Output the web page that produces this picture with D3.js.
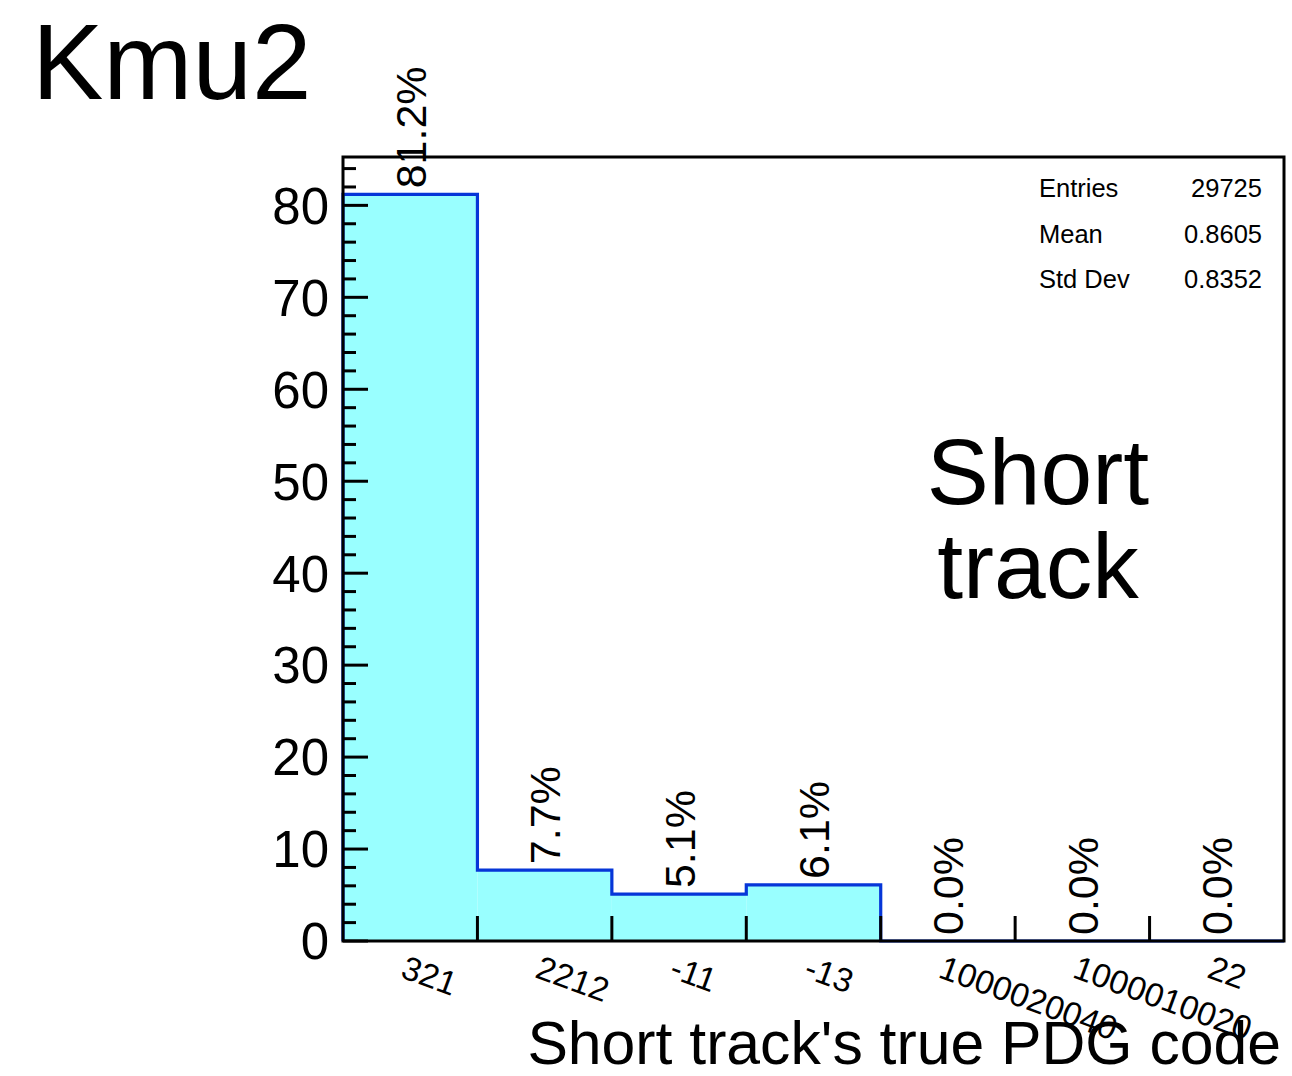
<!DOCTYPE html>
<html>
<head>
<meta charset="utf-8">
<script src="https://cdn.jsdelivr.net/npm/d3@7/dist/d3.min.js"></script>
<style>
  html, body { margin: 0; padding: 0; background: #ffffff; }
  svg { display: block; font-family: "Liberation Sans", Arial, Helvetica, sans-serif; }
</style>
</head>
<body>
<svg id="chart" width="1292" height="1076"></svg>
<script>
// PDG codes of the short track (one bin each) and the share of entries in each bin
const categories = ["321", "2212", "-11", "-13", "1000020040", "1000010020", "22"];
const percentages = [81.2, 7.7, 5.1, 6.1, 0.0, 0.0, 0.0];

// y-axis ticks
const yMajorTicks = [0, 10, 20, 30, 40, 50, 60, 70, 80];
const yMinorTicks = d3.range(0, 86, 2);

// statistics box
const statNames = ["Entries", "Mean", "Std Dev"];
const statValues = ["29725", "0.8605", "0.8352"];

const titleText = "Kmu2";
const noteLines = ["Short", "track"];
const xTitle = "Short track's true PDG code";

// ---- layout ----
const frame = { left: 343, right: 1284, top: 157, bottom: 941 };
const yMax = d3.max(percentages) * 1.05;

const svg = d3.select("#chart");

const x = d3.scaleLinear().domain([0, categories.length]).range([frame.left, frame.right]);
const y = d3.scaleLinear().domain([0, yMax]).range([frame.bottom, frame.top]);

const fillColor = "#99ffff";
const lineColor = "#0636d8";

// ---- histogram fill ----
svg.append("g")
  .selectAll("rect")
  .data(percentages)
  .join("rect")
  .attr("x", (d, i) => x(i))
  .attr("width", (d, i) => x(i + 1) - x(i))
  .attr("y", d => y(d))
  .attr("height", d => y(0) - y(d))
  .attr("fill", fillColor);

// ---- histogram outline (step line) ----
const stepPoints = [[0, 0]];
percentages.forEach((v, i) => { stepPoints.push([i, v]); stepPoints.push([i + 1, v]); });
stepPoints.push([categories.length, 0]);

svg.append("path")
  .datum(stepPoints)
  .attr("d", d3.line().x(p => x(p[0])).y(p => y(p[1])))
  .attr("fill", "none")
  .attr("stroke", lineColor)
  .attr("stroke-width", 3.2)
  .attr("stroke-linejoin", "miter");

// ---- frame ----
svg.append("rect")
  .attr("x", frame.left)
  .attr("y", frame.top)
  .attr("width", frame.right - frame.left)
  .attr("height", frame.bottom - frame.top)
  .attr("fill", "none")
  .attr("stroke", "#000")
  .attr("stroke-width", 3);

// ---- y axis ticks (drawn inward) ----
const yAxisG = svg.append("g");
yAxisG.selectAll("line.minor")
  .data(yMinorTicks.filter(t => t % 10 !== 0))
  .join("line")
  .attr("x1", frame.left).attr("x2", frame.left + 13)
  .attr("y1", d => y(d)).attr("y2", d => y(d))
  .attr("stroke", "#000").attr("stroke-width", 3);
yAxisG.selectAll("line.major")
  .data(yMajorTicks)
  .join("line")
  .attr("x1", frame.left).attr("x2", frame.left + 25)
  .attr("y1", d => y(d)).attr("y2", d => y(d))
  .attr("stroke", "#000").attr("stroke-width", 3);
yAxisG.selectAll("text")
  .data(yMajorTicks)
  .join("text")
  .attr("x", 329)
  .attr("y", d => y(d))
  .attr("dy", "0.36em")
  .attr("text-anchor", "end")
  .attr("font-size", 51)
  .attr("fill", "#000")
  .text(d => d);

// ---- x axis ticks at bin edges (drawn inward) ----
svg.append("g")
  .selectAll("line")
  .data(d3.range(1, categories.length))
  .join("line")
  .attr("x1", d => x(d)).attr("x2", d => x(d))
  .attr("y1", frame.bottom).attr("y2", frame.bottom - 25)
  .attr("stroke", "#000").attr("stroke-width", 3);

// ---- x bin labels (rotated) ----
svg.append("g")
  .selectAll("text")
  .data(categories)
  .join("text")
  .attr("transform", (d, i) => `translate(${x(i + 0.5) - 11},977) rotate(20)`)
  .attr("text-anchor", "start")
  .attr("font-size", 33.5)
  .attr("fill", "#000")
  .text(d => d);

// ---- value labels above each bin ----
svg.append("g")
  .selectAll("text")
  .data(percentages)
  .join("text")
  .attr("transform", (d, i) => `translate(${x(i + 0.5)},${y(d) - 6}) rotate(-90)`)
  .attr("text-anchor", "start")
  .attr("dy", "0.36em")
  .attr("font-size", 43)
  .attr("fill", "#000")
  .text(d => d.toFixed(1) + "%");

// ---- statistics box ----
const statsG = svg.append("g").attr("font-size", 25.5).attr("fill", "#000");
statNames.forEach((name, i) => {
  const by = 197 + i * 45.5;
  statsG.append("text").attr("x", 1039).attr("y", by).text(name);
  statsG.append("text").attr("x", 1262).attr("y", by).attr("text-anchor", "end").text(statValues[i]);
});

// ---- annotation ----
const note = svg.append("text")
  .attr("text-anchor", "middle")
  .attr("font-size", 93)
  .attr("fill", "#000");
noteLines.forEach((line, i) => {
  note.append("tspan").attr("x", 1038).attr("y", 504 + i * 94).text(line);
});

// ---- titles ----
svg.append("text")
  .attr("x", 32)
  .attr("y", 99)
  .attr("font-size", 107)
  .attr("fill", "#000")
  .text(titleText);

svg.append("text")
  .attr("x", 1281)
  .attr("y", 1064)
  .attr("text-anchor", "end")
  .attr("font-size", 60.7)
  .attr("fill", "#000")
  .text(xTitle);
</script>
</body>
</html>
